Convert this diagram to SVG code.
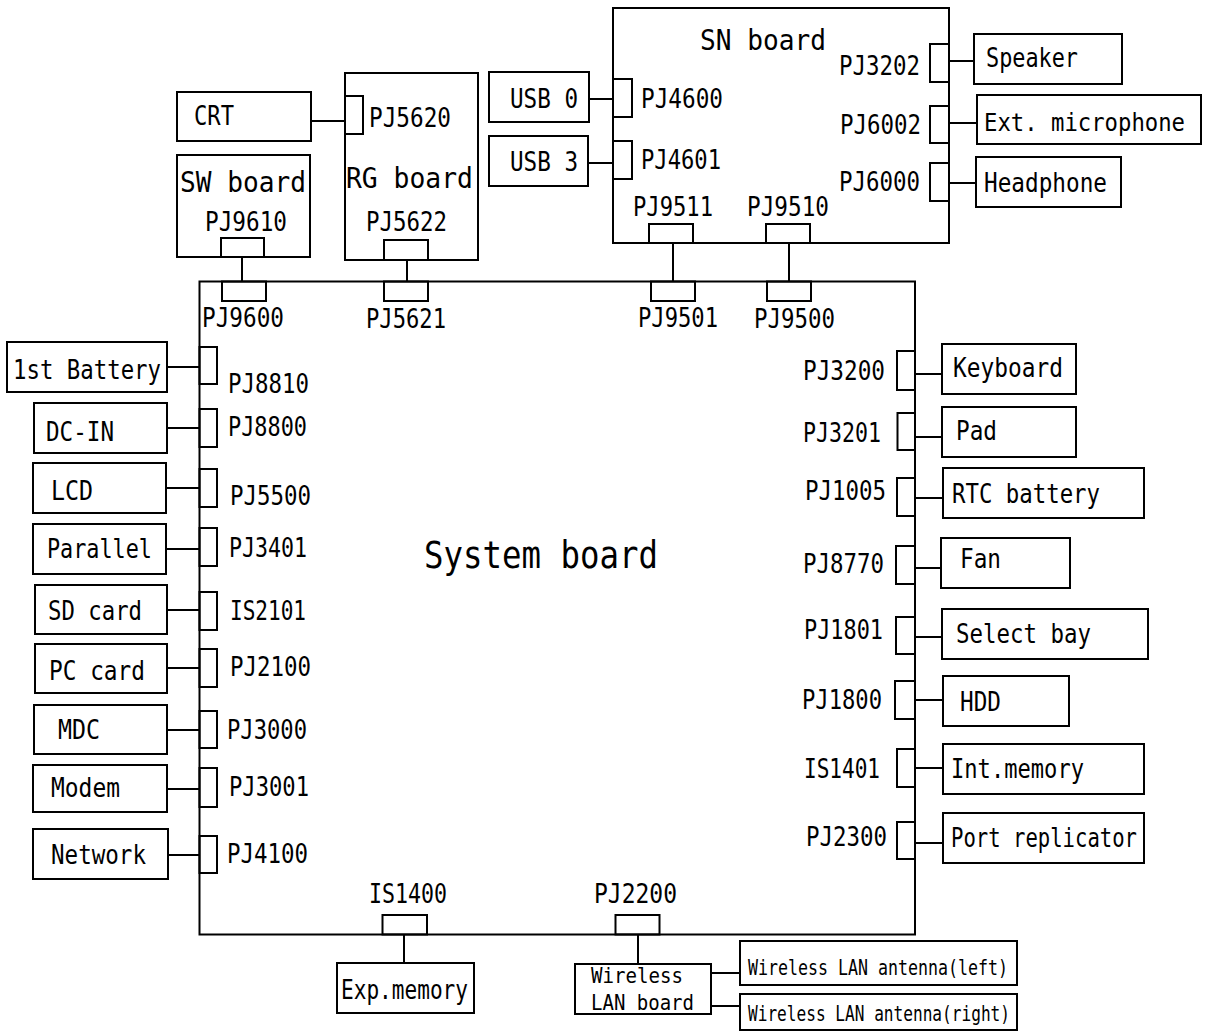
<svg xmlns="http://www.w3.org/2000/svg" width="1205" height="1032" viewBox="0 0 1205 1032">
<style>
rect{fill:none;stroke:#000;stroke-width:2}
line{stroke:#000;stroke-width:2}
text{font-family:"DejaVu Sans Mono","Liberation Mono",monospace;font-size:26px;fill:#000}
.b{font-size:29px}
.s{font-size:37px}
.a{font-size:21px}
.w{font-size:22px}
.m{font-size:24px}
</style>
<rect x="0" y="0" width="1205" height="1032" style="fill:#fff;stroke:none"/>
<g id="connectors">
<line x1="311" y1="121" x2="345" y2="121"/>
<line x1="242" y1="257" x2="242" y2="282"/>
<line x1="407" y1="260" x2="407" y2="282"/>
<line x1="673" y1="243" x2="673" y2="282"/>
<line x1="789" y1="243" x2="789" y2="282"/>
<line x1="589" y1="99" x2="613" y2="99"/>
<line x1="588" y1="163" x2="613" y2="163"/>
<line x1="949" y1="61" x2="974" y2="61"/>
<line x1="949" y1="123" x2="977" y2="123"/>
<line x1="949" y1="183" x2="976" y2="183"/>
<line x1="167" y1="367" x2="200" y2="367"/>
<line x1="167" y1="428" x2="200" y2="428"/>
<line x1="166" y1="488" x2="200" y2="488"/>
<line x1="166" y1="549" x2="200" y2="549"/>
<line x1="167" y1="610" x2="200" y2="610"/>
<line x1="167" y1="668" x2="200" y2="668"/>
<line x1="167" y1="730" x2="200" y2="730"/>
<line x1="167" y1="789" x2="200" y2="789"/>
<line x1="168" y1="855" x2="200" y2="855"/>
<line x1="915" y1="374" x2="942" y2="374"/>
<line x1="915" y1="437" x2="942" y2="437"/>
<line x1="915" y1="498" x2="943" y2="498"/>
<line x1="915" y1="568" x2="941" y2="568"/>
<line x1="915" y1="637" x2="942" y2="637"/>
<line x1="915" y1="700" x2="943" y2="700"/>
<line x1="915" y1="768" x2="943" y2="768"/>
<line x1="915" y1="843" x2="943" y2="843"/>
<line x1="404" y1="934" x2="404" y2="963"/>
<line x1="638" y1="934" x2="638" y2="964"/>
<line x1="711" y1="973" x2="740" y2="973"/>
<line x1="711" y1="1006" x2="740" y2="1006"/>
</g>
<g id="system-board">
<rect x="199.5" y="281.5" width="715.5" height="653"/>
<text class="s" x="424" y="568" textLength="234" lengthAdjust="spacingAndGlyphs">System board</text>
<rect x="222" y="281.5" width="44" height="19.5"/>
<text x="202" y="327" textLength="82" lengthAdjust="spacingAndGlyphs">PJ9600</text>
<rect x="384" y="281.5" width="44" height="19.5"/>
<text x="366" y="328" textLength="80" lengthAdjust="spacingAndGlyphs">PJ5621</text>
<rect x="651" y="281.5" width="44" height="19.5"/>
<text x="638" y="327" textLength="80" lengthAdjust="spacingAndGlyphs">PJ9501</text>
<rect x="767" y="281.5" width="44" height="19.5"/>
<text x="754" y="328" textLength="81" lengthAdjust="spacingAndGlyphs">PJ9500</text>
<rect x="199.5" y="347" width="17.5" height="37"/>
<text x="228" y="393" textLength="81" lengthAdjust="spacingAndGlyphs">PJ8810</text>
<rect x="199.5" y="409" width="17.5" height="38"/>
<text x="228" y="436" textLength="79" lengthAdjust="spacingAndGlyphs">PJ8800</text>
<rect x="199.5" y="469" width="17.5" height="38"/>
<text x="230" y="505" textLength="81" lengthAdjust="spacingAndGlyphs">PJ5500</text>
<rect x="199.5" y="528" width="17.5" height="38"/>
<text x="229" y="557" textLength="78" lengthAdjust="spacingAndGlyphs">PJ3401</text>
<rect x="199.5" y="592" width="17.5" height="38"/>
<text x="230" y="620" textLength="76" lengthAdjust="spacingAndGlyphs">IS2101</text>
<rect x="199.5" y="649" width="17.5" height="38"/>
<text x="230" y="676" textLength="81" lengthAdjust="spacingAndGlyphs">PJ2100</text>
<rect x="199.5" y="711" width="17.5" height="37"/>
<text x="227" y="739" textLength="80" lengthAdjust="spacingAndGlyphs">PJ3000</text>
<rect x="199.5" y="768" width="17.5" height="39"/>
<text x="229" y="796" textLength="80" lengthAdjust="spacingAndGlyphs">PJ3001</text>
<rect x="199.5" y="836" width="17.5" height="37"/>
<text x="227" y="863" textLength="81" lengthAdjust="spacingAndGlyphs">PJ4100</text>
<rect x="897" y="351" width="18" height="39"/>
<text x="803" y="380" textLength="82" lengthAdjust="spacingAndGlyphs">PJ3200</text>
<rect x="897.5" y="413" width="17.5" height="37"/>
<text x="803" y="442" textLength="78" lengthAdjust="spacingAndGlyphs">PJ3201</text>
<rect x="897" y="478" width="18" height="38"/>
<text x="805" y="500" textLength="81" lengthAdjust="spacingAndGlyphs">PJ1005</text>
<rect x="896" y="546" width="19" height="38"/>
<text x="803" y="573" textLength="81" lengthAdjust="spacingAndGlyphs">PJ8770</text>
<rect x="896" y="617" width="19" height="37"/>
<text x="804" y="639" textLength="79" lengthAdjust="spacingAndGlyphs">PJ1801</text>
<rect x="895" y="681" width="20" height="38"/>
<text x="802" y="709" textLength="80" lengthAdjust="spacingAndGlyphs">PJ1800</text>
<rect x="897" y="749" width="18" height="38"/>
<text x="804" y="778" textLength="76" lengthAdjust="spacingAndGlyphs">IS1401</text>
<rect x="897" y="822" width="18" height="37"/>
<text x="806" y="846" textLength="81" lengthAdjust="spacingAndGlyphs">PJ2300</text>
<rect x="382.5" y="915" width="44.5" height="19.5"/>
<text x="369" y="903" textLength="78" lengthAdjust="spacingAndGlyphs">IS1400</text>
<rect x="615.5" y="915" width="44" height="19.5"/>
<text x="594" y="903" textLength="83" lengthAdjust="spacingAndGlyphs">PJ2200</text>
</g>
<g id="sw-board">
<rect x="177" y="155" width="133" height="102"/>
<text class="b" x="180" y="192" textLength="126" lengthAdjust="spacingAndGlyphs">SW board</text>
<text x="205" y="231" textLength="82" lengthAdjust="spacingAndGlyphs">PJ9610</text>
<rect x="221" y="238" width="43" height="19"/>
</g>
<g id="rg-board">
<rect x="345" y="73" width="133" height="187"/>
<rect x="345" y="96" width="18" height="38"/>
<text x="369" y="127" textLength="82" lengthAdjust="spacingAndGlyphs">PJ5620</text>
<text class="b" x="346" y="188" textLength="127" lengthAdjust="spacingAndGlyphs">RG board</text>
<text x="366" y="231" textLength="81" lengthAdjust="spacingAndGlyphs">PJ5622</text>
<rect x="384" y="240" width="44" height="20"/>
</g>
<g id="crt">
<rect x="177" y="92" width="134" height="49"/>
<text x="194" y="125" textLength="40" lengthAdjust="spacingAndGlyphs">CRT</text>
</g>
<g id="sn-board">
<rect x="613" y="8" width="336" height="235"/>
<text class="b" x="700" y="50" textLength="126" lengthAdjust="spacingAndGlyphs">SN board</text>
<rect x="613" y="79" width="19" height="38"/>
<text x="641" y="108" textLength="82" lengthAdjust="spacingAndGlyphs">PJ4600</text>
<rect x="613" y="141" width="19" height="38"/>
<text x="641" y="169" textLength="80" lengthAdjust="spacingAndGlyphs">PJ4601</text>
<rect x="930" y="44" width="19" height="38"/>
<text x="839" y="75" textLength="81" lengthAdjust="spacingAndGlyphs">PJ3202</text>
<rect x="930" y="106" width="19" height="37"/>
<text x="840" y="134" textLength="81" lengthAdjust="spacingAndGlyphs">PJ6002</text>
<rect x="930" y="163" width="19" height="38"/>
<text x="839" y="191" textLength="81" lengthAdjust="spacingAndGlyphs">PJ6000</text>
<text x="633" y="216" textLength="80" lengthAdjust="spacingAndGlyphs">PJ9511</text>
<rect x="649" y="224" width="44" height="19"/>
<text x="747" y="216" textLength="82" lengthAdjust="spacingAndGlyphs">PJ9510</text>
<rect x="766" y="224" width="44" height="19"/>
</g>
<g id="usb0"><rect x="489" y="72" width="100" height="50"/><text x="510" y="108" textLength="68" lengthAdjust="spacingAndGlyphs">USB 0</text></g>
<g id="usb3"><rect x="489" y="136" width="99" height="50"/><text x="510" y="171" textLength="68" lengthAdjust="spacingAndGlyphs">USB 3</text></g>
<g id="speaker"><rect x="974" y="34" width="148" height="50"/><text x="986" y="67" textLength="92" lengthAdjust="spacingAndGlyphs">Speaker</text></g>
<g id="ext-mic"><rect x="977" y="95" width="224" height="49"/><text class="m" x="984" y="131" textLength="201" lengthAdjust="spacingAndGlyphs">Ext. microphone</text></g>
<g id="headphone"><rect x="976" y="157" width="145" height="50"/><text x="984" y="192" textLength="123" lengthAdjust="spacingAndGlyphs">Headphone</text></g>
<g id="battery"><rect x="7" y="342" width="160" height="50"/><text x="13" y="379" textLength="148" lengthAdjust="spacingAndGlyphs">1st Battery</text></g>
<g id="dc-in"><rect x="34" y="403" width="133" height="50"/><text x="46" y="441" textLength="68" lengthAdjust="spacingAndGlyphs">DC-IN</text></g>
<g id="lcd"><rect x="33" y="463" width="133" height="50"/><text x="51" y="500" textLength="42" lengthAdjust="spacingAndGlyphs">LCD</text></g>
<g id="parallel"><rect x="33" y="524" width="133" height="50"/><text x="47" y="558" textLength="105" lengthAdjust="spacingAndGlyphs">Parallel</text></g>
<g id="sd-card"><rect x="35" y="585" width="132" height="49"/><text x="48" y="620" textLength="94" lengthAdjust="spacingAndGlyphs">SD card</text></g>
<g id="pc-card"><rect x="35" y="644" width="132" height="49"/><text x="49" y="680" textLength="96" lengthAdjust="spacingAndGlyphs">PC card</text></g>
<g id="mdc"><rect x="34" y="705" width="133" height="49"/><text x="58" y="739" textLength="42" lengthAdjust="spacingAndGlyphs">MDC</text></g>
<g id="modem"><rect x="33" y="765" width="134" height="47"/><text x="51" y="797" textLength="69" lengthAdjust="spacingAndGlyphs">Modem</text></g>
<g id="network"><rect x="33" y="829" width="135" height="50"/><text x="51" y="864" textLength="95" lengthAdjust="spacingAndGlyphs">Network</text></g>
<g id="keyboard"><rect x="942" y="344" width="134" height="50"/><text x="953" y="377" textLength="110" lengthAdjust="spacingAndGlyphs">Keyboard</text></g>
<g id="pad"><rect x="942" y="407" width="134" height="50"/><text x="956" y="440" textLength="41" lengthAdjust="spacingAndGlyphs">Pad</text></g>
<g id="rtc-battery"><rect x="943" y="468" width="201" height="50"/><text x="952" y="503" textLength="148" lengthAdjust="spacingAndGlyphs">RTC battery</text></g>
<g id="fan"><rect x="941" y="538" width="129" height="50"/><text x="960" y="568" textLength="41" lengthAdjust="spacingAndGlyphs">Fan</text></g>
<g id="select-bay"><rect x="942" y="609" width="206" height="50"/><text x="956" y="643" textLength="135" lengthAdjust="spacingAndGlyphs">Select bay</text></g>
<g id="hdd"><rect x="943" y="676" width="126" height="50"/><text x="960" y="711" textLength="41" lengthAdjust="spacingAndGlyphs">HDD</text></g>
<g id="int-memory"><rect x="943" y="744" width="201" height="50"/><text x="951" y="778" textLength="133" lengthAdjust="spacingAndGlyphs">Int.memory</text></g>
<g id="port-replicator"><rect x="943" y="813" width="201" height="50"/><text x="951" y="847" textLength="186" lengthAdjust="spacingAndGlyphs">Port replicator</text></g>
<g id="exp-memory"><rect x="337" y="963" width="137" height="50"/><text x="341" y="999" textLength="127" lengthAdjust="spacingAndGlyphs">Exp.memory</text></g>
<g id="wlan-board"><rect x="575" y="964" width="136" height="50"/><text class="w" x="591" y="983" textLength="92" lengthAdjust="spacingAndGlyphs">Wireless</text><text class="w" x="591" y="1010" textLength="103" lengthAdjust="spacingAndGlyphs">LAN board</text></g>
<g id="antenna-left"><rect x="740" y="941" width="277" height="44"/><text class="a" x="748" y="975" textLength="260" lengthAdjust="spacingAndGlyphs">Wireless LAN antenna(left)</text></g>
<g id="antenna-right"><rect x="740" y="994" width="277" height="36"/><text class="a" x="748" y="1021" textLength="262" lengthAdjust="spacingAndGlyphs">Wireless LAN antenna(right)</text></g>
</svg>
